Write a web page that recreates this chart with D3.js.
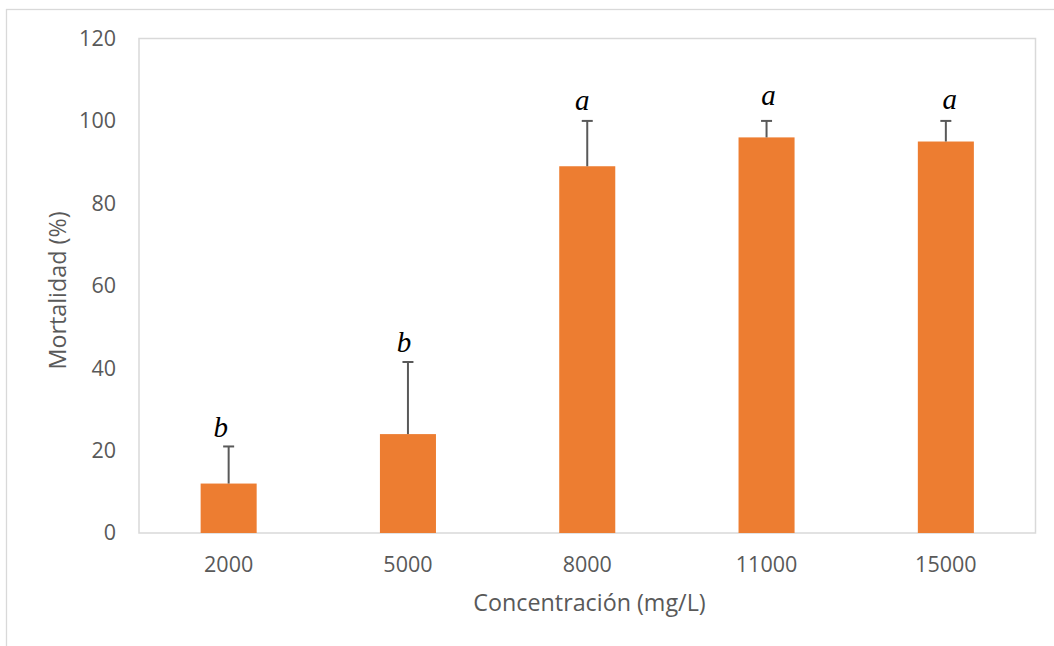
<!DOCTYPE html>
<html>
<head>
<meta charset="utf-8">
<script src="https://cdn.jsdelivr.net/npm/d3@7"></script>
<style>
  html, body { margin: 0; padding: 0; background: #fff; }
  svg { display: block; }
</style>
</head>
<body>
<svg id="chart" width="1054" height="646"></svg>
<script>
// ---- data ----
const categories = ["2000", "5000", "8000", "11000", "15000"];
const mortality = [12, 24, 89, 96, 95];
const errorUpper = [9, 17.5, 11, 4, 5];
const groupLetters = ["b", "b", "a", "a", "a"];
const yTicks = [0, 20, 40, 60, 80, 100, 120];
const xTitle = "Concentración (mg/L)";
const yTitle = "Mortalidad (%)";

// ---- layout (not data) ----
const letterNudge = [[-8, -9], [-4, -10], [-5, -11], [2, -16], [4, -12]];

const svg = d3.select("#chart");
const plot = { left: 139, top: 38.5, right: 1035.5, bottom: 533 };
const grey = "#595959";
const font = "'Open Sans', sans-serif";

// outer chart frame
svg.append("rect")
  .attr("x", 6.5).attr("y", 9.5)
  .attr("width", 1200).attr("height", 800)
  .attr("fill", "none").attr("stroke", "#d9d9d9").attr("stroke-width", 1.3);

const x = d3.scaleBand().domain(categories)
  .range([plot.left, plot.right]).paddingInner(0.6875).paddingOuter(0.34375);
const y = d3.scaleLinear().domain([0, 120]).range([plot.bottom, plot.top]);

// plot area border
svg.append("rect")
  .attr("x", plot.left).attr("y", plot.top)
  .attr("width", plot.right - plot.left).attr("height", plot.bottom - plot.top)
  .attr("fill", "none").attr("stroke", "#d9d9d9").attr("stroke-width", 1.5);

// y axis
const yAxis = d3.axisLeft(y).tickValues(yTicks).tickSize(0).tickPadding(23);
const gy = svg.append("g").attr("transform", `translate(${plot.left},0)`).call(yAxis);
gy.select(".domain").remove();
gy.selectAll("text").attr("fill", grey).attr("font-family", font).attr("font-size", 21.5);

// x axis
const xAxis = d3.axisBottom(x).tickSize(0).tickPadding(24);
const gx = svg.append("g").attr("transform", `translate(0,${plot.bottom})`).call(xAxis);
gx.select(".domain").remove();
gx.selectAll("text").attr("fill", grey).attr("font-family", font).attr("font-size", 21.5);

const rows = categories.map((c, i) => ({ c, v: mortality[i], e: errorUpper[i], l: groupLetters[i], n: letterNudge[i] }));

// bars
svg.append("g").selectAll("rect").data(rows).join("rect")
  .attr("x", d => x(d.c))
  .attr("y", d => y(d.v))
  .attr("width", x.bandwidth())
  .attr("height", d => y(0) - y(d.v))
  .attr("fill", "#ED7D31");

// error bars (upper only)
const eb = svg.append("g").attr("stroke", grey).attr("stroke-width", 2);
rows.forEach(d => {
  const cx = x(d.c) + x.bandwidth() / 2;
  eb.append("line").attr("x1", cx).attr("x2", cx).attr("y1", y(d.v)).attr("y2", y(d.v + d.e));
  eb.append("line").attr("x1", cx - 5.5).attr("x2", cx + 5.5).attr("y1", y(d.v + d.e)).attr("y2", y(d.v + d.e));
});

// significance letters
svg.append("g").selectAll("text").data(rows).join("text")
  .attr("x", d => x(d.c) + x.bandwidth() / 2 + d.n[0])
  .attr("y", d => y(d.v + d.e) + d.n[1])
  .attr("text-anchor", "middle")
  .attr("font-family", "'Liberation Serif', 'Times New Roman', serif")
  .attr("font-style", "italic")
  .attr("font-size", 29)
  .attr("fill", "#000")
  .text(d => d.l);

// axis titles
svg.append("text")
  .attr("x", 589.5).attr("y", 611)
  .attr("text-anchor", "middle")
  .attr("font-family", font).attr("font-size", 23.3)
  .attr("fill", grey).text(xTitle);

svg.append("text")
  .attr("transform", "translate(66,290.5) rotate(-90)")
  .attr("text-anchor", "middle")
  .attr("font-family", font).attr("font-size", 23.3)
  .attr("fill", grey).text(yTitle);
</script>
</body>
</html>
